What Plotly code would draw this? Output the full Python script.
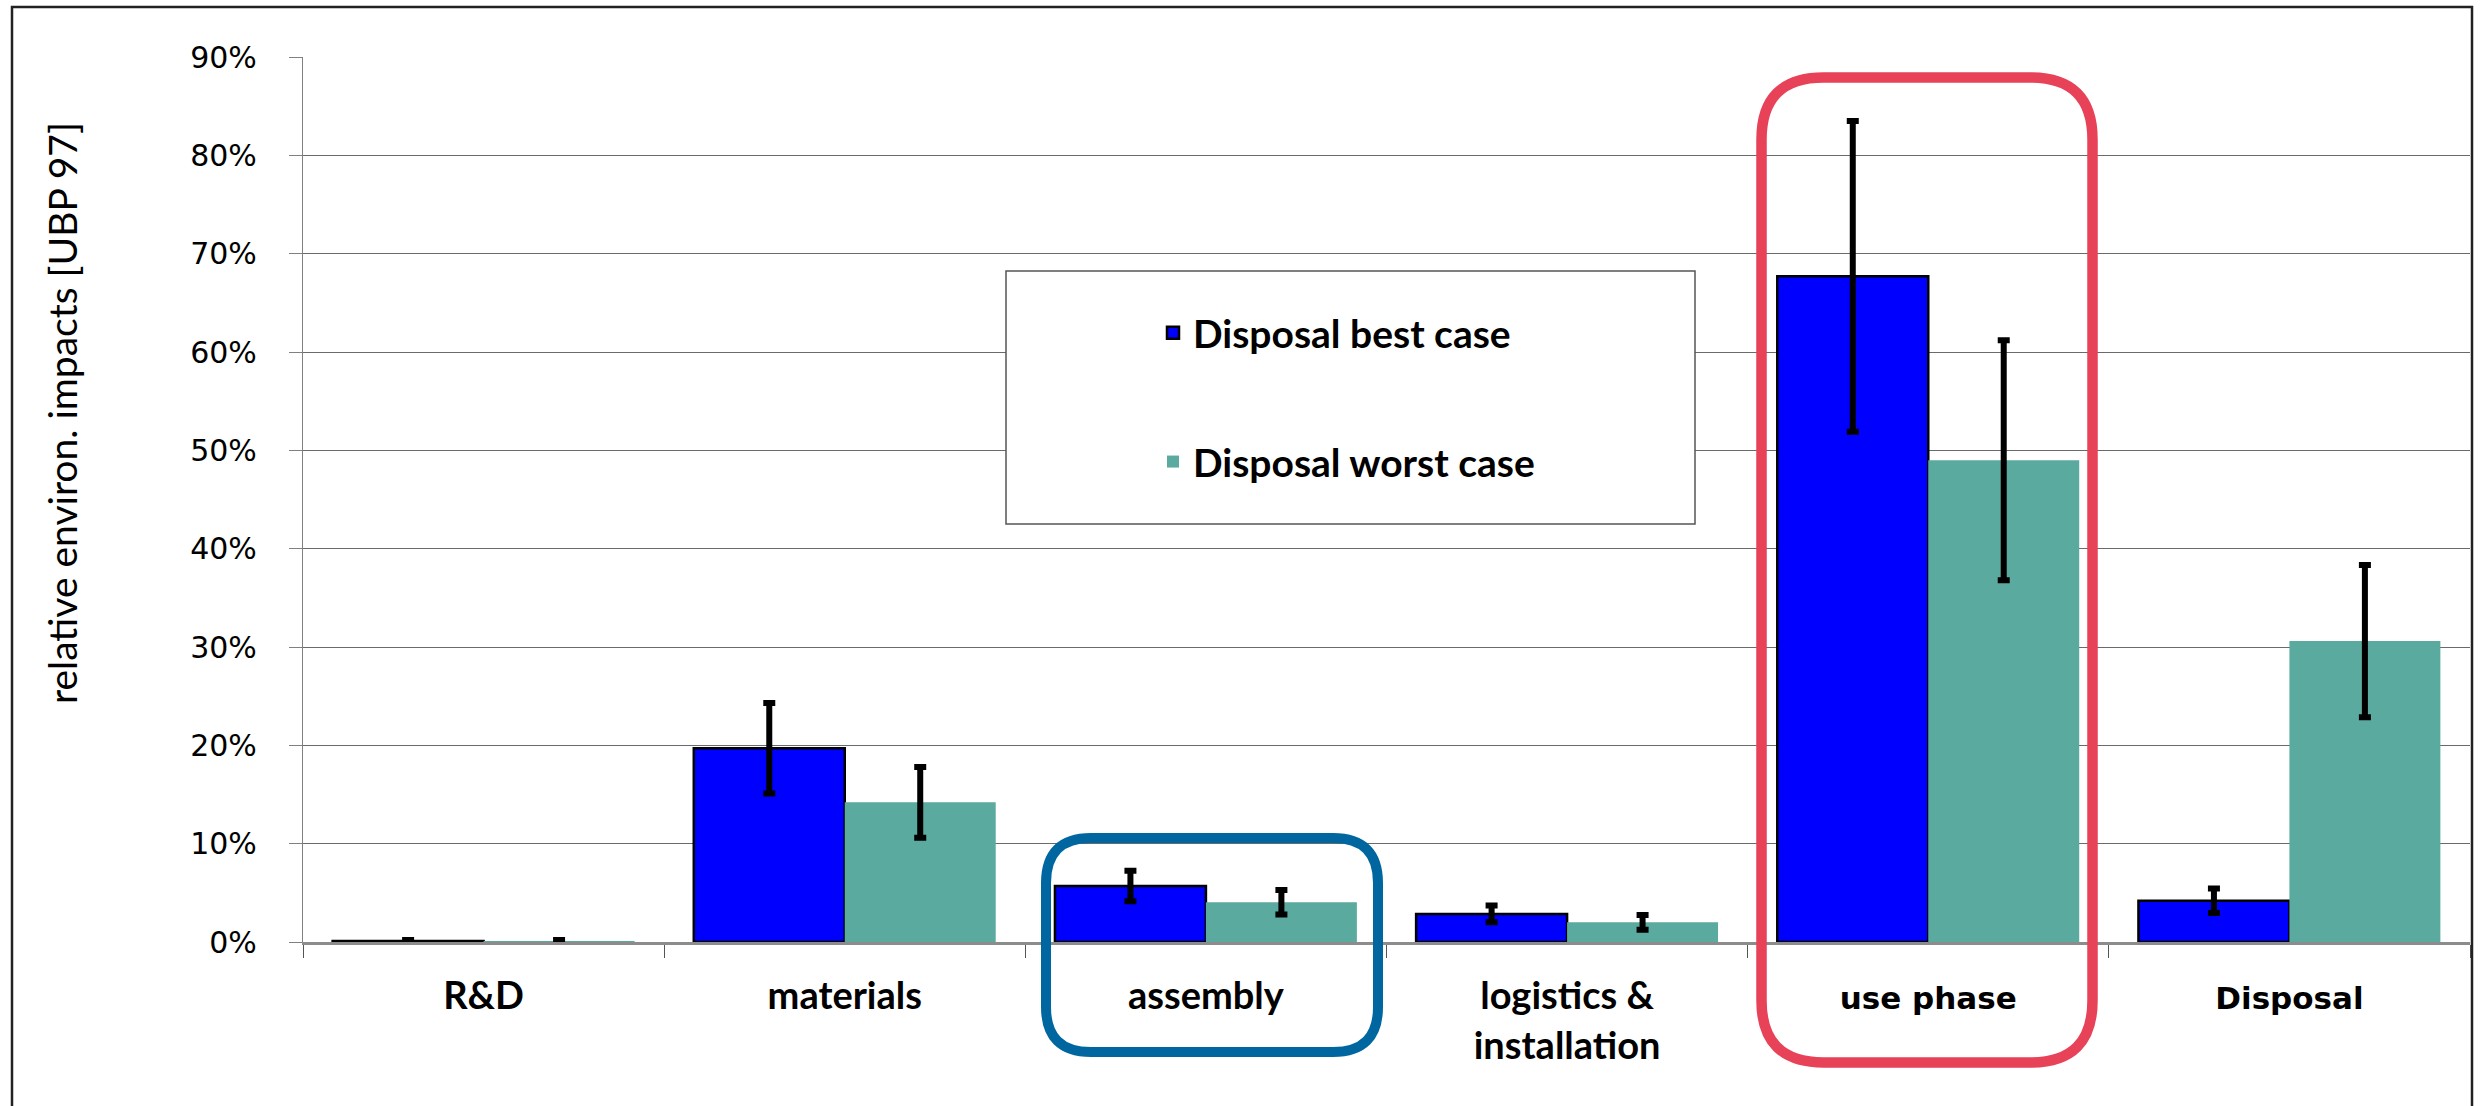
import plotly.graph_objects as go

# ---- data ----
categories = ["R&D", "materials", "assembly", "logistics &<br>installation", "use phase", "Disposal"]
best_case = [0.1, 19.7, 5.7, 2.85, 67.7, 4.2]
best_err = [0.1, 4.6, 1.55, 0.85, 15.8, 1.25]
worst_case = [0.1, 14.2, 4.05, 2.0, 49.0, 30.6]
worst_err = [0.1, 3.6, 1.25, 0.75, 12.2, 7.75]
series_names = ["Disposal best case", "Disposal worst case"]
y_ticks = [0, 10, 20, 30, 40, 50, 60, 70, 80, 90]
y_title = "relative environ. impacts [UBP 97]"

# ---- layout geometry (pixels) ----
W, H = 2484, 1106
PL, PR, PT, PB = 303, 2470, 57, 942

def px(x):
    return (x - PL) / (PR - PL)

def py(y):
    return (PB - y) / (PB - PT)

def rounded_rect(x0, y0, x1, y1, r):
    pts = [
        f"M{px(x0 + r)},{py(y0)}",
        f"L{px(x1 - r)},{py(y0)}",
        f"Q{px(x1)},{py(y0)} {px(x1)},{py(y0 + r)}",
        f"L{px(x1)},{py(y1 - r)}",
        f"Q{px(x1)},{py(y1)} {px(x1 - r)},{py(y1)}",
        f"L{px(x0 + r)},{py(y1)}",
        f"Q{px(x0)},{py(y1)} {px(x0)},{py(y1 - r)}",
        f"L{px(x0)},{py(y0 + r)}",
        f"Q{px(x0)},{py(y0)} {px(x0 + r)},{py(y0)}",
        "Z",
    ]
    return " ".join(pts)

BLUE = "#0000FF"
TEAL = "#5AAA9F"

def tick_label(c):
    if c in ("use phase", "Disposal"):
        return f"<span style=\"font-family:'DejaVu Sans';font-size:31px\">{c}</span>"
    return c

fig = go.Figure()
fig.add_trace(go.Bar(
    x=categories, y=best_case, name=series_names[0], legendgroup="a",
    marker=dict(color=BLUE, line=dict(color="black", width=2.5)),
    error_y=dict(type="data", array=best_err, visible=True, color="black", thickness=6, width=6),
))
fig.add_trace(go.Bar(
    x=categories, y=worst_case, name=series_names[1], legendgroup="b",
    marker=dict(color=TEAL, line=dict(width=0)),
    error_y=dict(type="data", array=worst_err, visible=True, color="black", thickness=6, width=6),
))

shapes = [
    # legend frame
    dict(type="rect", xref="paper", yref="paper", x0=px(1006), x1=px(1695), y0=py(524), y1=py(271),
         line=dict(color="#555555", width=1.5), fillcolor="white", layer="above"),
    # red highlight
    dict(type="path", xref="paper", yref="paper", path=rounded_rect(1761.5, 77.5, 2092.5, 1062.5, 62),
         line=dict(color="#E84258", width=10.5), layer="above"),
    # blue highlight
    dict(type="path", xref="paper", yref="paper", path=rounded_rect(1046, 838, 1378, 1052, 45),
         line=dict(color="#0066A0", width=10), layer="above"),
    # outer frame
    dict(type="rect", xref="paper", yref="paper", x0=px(12), x1=px(2472), y0=py(1125), y1=py(7),
         line=dict(color="#222222", width=2.5), layer="above"),
]

fig.update_layout(
    template="none",
    width=W, height=H,
    margin=dict(l=PL, r=W - PR, t=PT, b=H - PB, pad=0, autoexpand=False),
    paper_bgcolor="white", plot_bgcolor="white",
    barmode="group", bargap=0.164, bargroupgap=0,
    showlegend=True,
    legend=dict(x=px(1153), y=py(301), xanchor="left", yanchor="top",
                bgcolor="rgba(0,0,0,0)", borderwidth=0,
                traceorder="grouped", tracegroupgap=75,
                font=dict(family="Lato", size=39, color="black", weight="bold")),
    shapes=shapes,
    annotations=[dict(text=y_title, xref="paper", yref="paper", x=px(62), y=py(413),
                      xanchor="center", yanchor="middle", textangle=-90, showarrow=False,
                      font=dict(family="Lato", size=39, color="black"))],
    xaxis=dict(
        type="category",
        tickvals=categories, ticktext=[tick_label(c) for c in categories],
        showline=True, linecolor="#8c8c8c", linewidth=2.5,
        ticks="outside", tickson="boundaries", ticklen=13, tickcolor="#555555", tickwidth=1.3,
        showgrid=False, zeroline=False,
        tickfont=dict(family="Lato", size=38, color="black", weight="bold"),
        ticklabelstandoff=19,
        automargin=False,
    ),
    yaxis=dict(
        range=[0, 90], tickvals=y_ticks, ticktext=[f"{v}%" for v in y_ticks],
        showline=True, linecolor="#808080", linewidth=1.3,
        ticks="outside", ticklen=13, tickcolor="#808080", tickwidth=1.3,
        showgrid=True, gridcolor="#6a6a6a", gridwidth=1.4, zeroline=False,
        tickfont=dict(family="DejaVu Sans", size=30, color="black"),
        ticklabelstandoff=26,
        automargin=False,
    ),
)

fig.write_html("out.html", config={"displayModeBar": False},
               post_script="document.body.style.margin='0';document.body.style.overflow='hidden';")
